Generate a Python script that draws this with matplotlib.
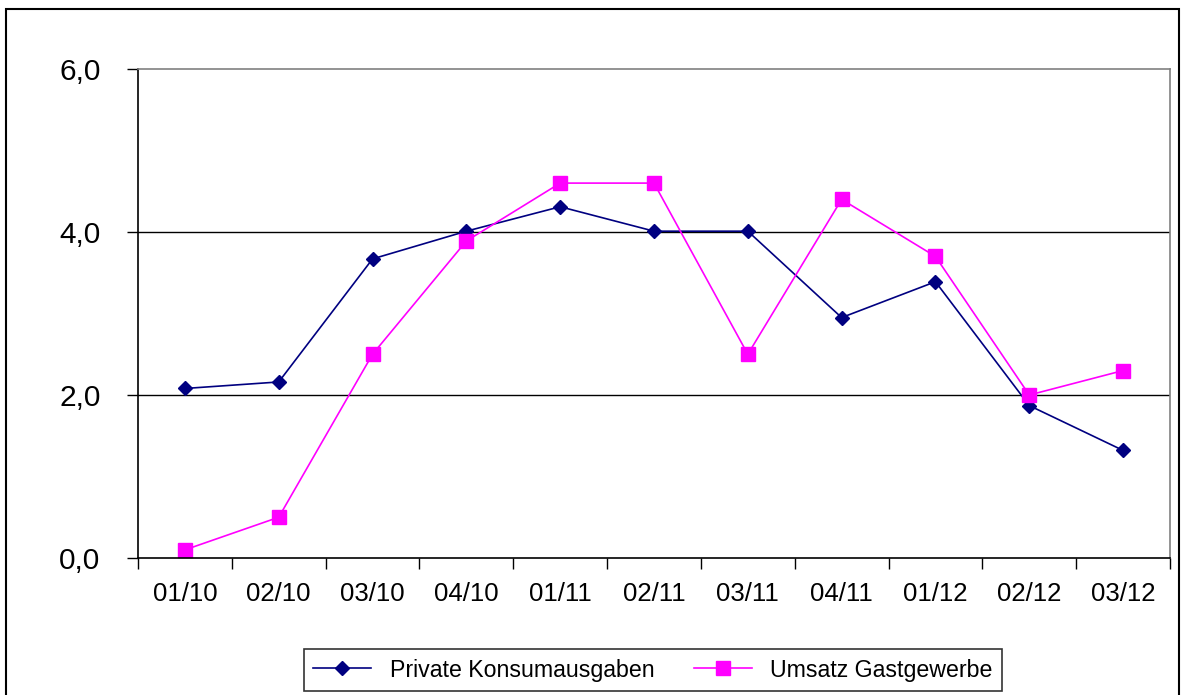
import matplotlib.pyplot as plt
import matplotlib.patches as mpatches

plt.rcParams['font.family'] = ['Liberation Sans', 'DejaVu Sans']

quarters = ['01/10', '02/10', '03/10', '04/10', '01/11', '02/11',
            '03/11', '04/11', '01/12', '02/12', '03/12']
private = [2.08, 2.16, 3.67, 4.01, 4.31, 4.01, 4.01, 2.95, 3.39, 1.87, 1.32]
umsatz = [0.1, 0.5, 2.5, 3.89, 4.6, 4.6, 2.5, 4.4, 3.7, 2.0, 2.3]
yticks = [0, 2, 4, 6]
ylabels = ['0,0', '2,0', '4,0', '6,0']

fig = plt.figure(figsize=(11.81, 6.95), dpi=100)
# outer frame
fig.patches.append(mpatches.Rectangle((6/1181, -0.01), 1173/1181, 1 - 9/695 + 0.01,
                                      transform=fig.transFigure, fill=False,
                                      edgecolor='black', linewidth=1.5))

ax = fig.add_axes([138/1181, 1 - 558/695, 1032/1181, 489/695])
x = range(len(quarters))
ax.plot(x, private, color='#000080', marker='D', markersize=7.5, linewidth=1.2,
        label='Private Konsumausgaben')
ax.plot(x, umsatz, color='#FF00FF', marker='s', markersize=10, linewidth=1.2,
        label='Umsatz Gastgewerbe')

ax.set_xlim(-0.5, len(quarters) - 0.5)
ax.set_ylim(0, 6)
ax.set_yticks(yticks)
ax.set_yticklabels(ylabels, fontsize=21.5)
for y in yticks[1:3]:
    ax.axhline(y, color='black', linewidth=1, zorder=0)

ax.set_xticks([i - 0.5 for i in range(len(quarters) + 1)])
ax.set_xticklabels([])
ax.set_xticks(list(x), minor=True)
ax.set_xticklabels(quarters, minor=True, fontsize=18.5)
ax.tick_params(axis='x', which='major', direction='out', length=8, width=1)
ax.tick_params(axis='x', which='minor', length=0, pad=17)
ax.tick_params(axis='y', direction='out', length=8, width=1, pad=19)

ax.spines['left'].set_color('black')
ax.spines['bottom'].set_color('black')
ax.spines['top'].set_color('#808080')
ax.spines['right'].set_color('#808080')
for s in ax.spines.values():
    s.set_linewidth(1.2)

leg = fig.legend(loc='center', bbox_to_anchor=(653/1181, 1 - 670/695), ncol=2,
                 fontsize=16.7, frameon=True, fancybox=False, edgecolor='black',
                 handlelength=2.5, handletextpad=0.8, columnspacing=1.7,
                 borderpad=0.4)
leg.get_frame().set_linewidth(1.2)

fig.savefig('out.png', dpi=100)
